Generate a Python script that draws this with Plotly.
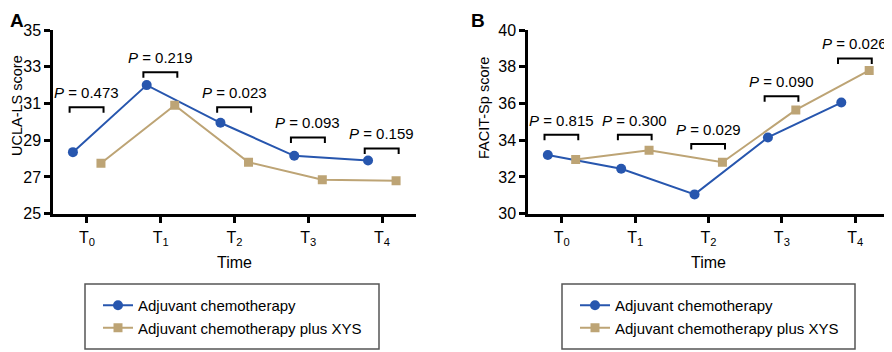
import plotly.graph_objects as go

# ---------------- data ----------------
time_labels = ["T<sub>0</sub>", "T<sub>1</sub>", "T<sub>2</sub>", "T<sub>3</sub>", "T<sub>4</sub>"]
series_names = ["Adjuvant chemotherapy", "Adjuvant chemotherapy plus XYS"]

ucla_chemo = [28.35, 32.0, 29.95, 28.15, 27.9]
ucla_xys = [27.75, 30.9, 27.8, 26.85, 26.8]
ucla_p = ["0.473", "0.219", "0.023", "0.093", "0.159"]
ucla_bracket = [30.8, 32.7, 30.8, 29.15, 28.55]

facit_chemo = [33.2, 32.45, 31.05, 34.15, 36.05]
facit_xys = [32.95, 33.45, 32.8, 35.65, 37.8]
facit_p = ["0.815", "0.300", "0.029", "0.090", "0.026"]
facit_bracket = [34.3, 34.3, 33.8, 36.4, 38.45]

# ---------------- style ----------------
PAGE_W, PAGE_H = 892, 352
BODY = 8                      # default page margin around the plot div
W, H = PAGE_W - BODY, PAGE_H - BODY
BLUE = "#2756ae"
TAN = "#bda475"
FONT = "Arial, Liberation Sans, sans-serif"
OFF = 0.19          # horizontal dodge of the two series
BL, BR = -0.235, 0.225   # bracket span relative to tick


def px_x(p):
    return (p - BODY) / W


def px_y(p):
    return 1 - (p - BODY) / H


fig = go.Figure()
xs = list(range(len(time_labels)))

panels = [
    dict(xa="x", ya="y", chemo=ucla_chemo, xys=ucla_xys, legend="legend"),
    dict(xa="x2", ya="y2", chemo=facit_chemo, xys=facit_xys, legend="legend2"),
]
for k, p in enumerate(panels):
    fig.add_trace(go.Scatter(
        x=[i - OFF for i in xs], y=p["chemo"], xaxis=p["xa"], yaxis=p["ya"],
        mode="lines+markers", name=series_names[0], legend=p["legend"],
        legendgroup=f"c{k}",
        line=dict(color=BLUE, width=2), marker=dict(symbol="circle", size=10, color=BLUE),
        hoverinfo="skip"))
    fig.add_trace(go.Scatter(
        x=[i + OFF for i in xs], y=p["xys"], xaxis=p["xa"], yaxis=p["ya"],
        mode="lines+markers", name=series_names[1], legend=p["legend"],
        legendgroup=f"x{k}",
        line=dict(color=TAN, width=2), marker=dict(symbol="square", size=9, color=TAN),
        hoverinfo="skip"))

shapes = []
annotations = []
for (xa, ya, levels, pvals, scale) in [
    ("x", "y", ucla_bracket, ucla_p, 10 / 183.7),
    ("x2", "y2", facit_bracket, facit_p, 10 / 183.7),
]:
    d = 5.5 * scale
    for i, (lv, pv) in enumerate(zip(levels, pvals)):
        x0, x1 = i + BL, i + BR
        shapes.append(dict(
            type="path", xref=xa, yref=ya,
            path=f"M {x0},{lv - d} L {x0},{lv} L {x1},{lv} L {x1},{lv - d}",
            line=dict(color="black", width=2)))
        annotations.append(dict(
            xref=xa, yref=ya, x=(x0 + x1) / 2, y=lv, text=f"<i>P</i> = {pv}",
            showarrow=False, xanchor="center", yanchor="bottom", yshift=4,
            font=dict(size=15, color="black", family=FONT)))

# y axis titles and panel letters
annotations += [
    dict(xref="paper", yref="paper", x=px_x(17), y=px_y(106), text="UCLA-LS score",
         textangle=-90, showarrow=False, xanchor="center", yanchor="middle",
         font=dict(size=14.5, color="black", family=FONT)),
    dict(xref="paper", yref="paper", x=px_x(484), y=px_y(108), text="FACIT-Sp score",
         textangle=-90, showarrow=False, xanchor="center", yanchor="middle",
         font=dict(size=14.5, color="black", family=FONT)),
    dict(xref="paper", yref="paper", x=0, y=1, text="<b>A</b>",
         xanchor="left", yanchor="top", showarrow=False,
         font=dict(size=19, color="black", family=FONT)),
    dict(xref="paper", yref="paper", x=px_x(469), y=1, text="<b>B</b>",
         xanchor="left", yanchor="top", showarrow=False,
         font=dict(size=19, color="black", family=FONT)),
]

# legend boxes
for (l, r) in [(85, 379), (562, 855)]:
    shapes.append(dict(type="rect", xref="paper", yref="paper",
                       x0=px_x(l), x1=px_x(r), y0=px_y(284), y1=px_y(349),
                       line=dict(color="#555555", width=1.5), fillcolor="rgba(0,0,0,0)"))

axis_common = dict(showline=True, linecolor="black", linewidth=2.5, showgrid=False,
                   zeroline=False, ticks="outside", tickcolor="black", tickwidth=2.5,
                   automargin=False,
                   tickfont=dict(size=16, color="black", family=FONT), fixedrange=True)

xdom1 = [px_x(53), px_x(416)]
xdom2 = [px_x(528), px_x(889)]
ydom = [px_y(213.7), px_y(30)]

xaxis_cfg = dict(axis_common, range=[-0.46, 4.46], tickvals=xs, ticktext=time_labels,
                 ticklen=7, title=dict(text="Time", standoff=10,
                                       font=dict(size=16, color="black", family=FONT)))
yaxis_cfg = dict(axis_common, ticklen=6, dtick=2)

legend_cfg = dict(font=dict(size=15, color="black", family=FONT), bgcolor="rgba(0,0,0,0)",
                  borderwidth=0, xanchor="left", yanchor="top", tracegroupgap=0,
                  itemwidth=30)

fig.update_layout(
    width=W, height=H, margin=dict(l=0, r=0, t=0, b=0, pad=0, autoexpand=False),
    paper_bgcolor="white", plot_bgcolor="white",
    font=dict(family=FONT, color="black"),
    xaxis=dict(xaxis_cfg, domain=xdom1, anchor="y"),
    yaxis=dict(yaxis_cfg, domain=ydom, range=[25, 35], anchor="x", tick0=25),
    xaxis2=dict(xaxis_cfg, domain=xdom2, anchor="y2"),
    yaxis2=dict(yaxis_cfg, domain=ydom, range=[30, 40], anchor="x2", tick0=30),
    legend=dict(legend_cfg, x=px_x(98), y=px_y(289)),
    legend2=dict(legend_cfg, x=px_x(575), y=px_y(289)),
    shapes=shapes, annotations=annotations,
    showlegend=True,
)

fig.write_html("out.html")
